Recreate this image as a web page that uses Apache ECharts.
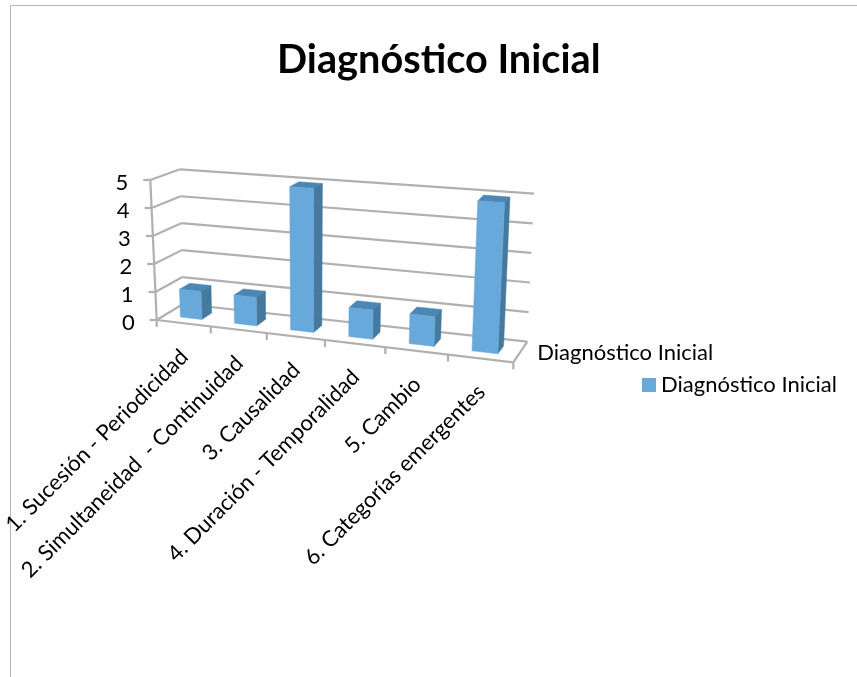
<!DOCTYPE html>
<html>
<head>
<meta charset="utf-8">
<title>Diagnóstico Inicial</title>
<script src="https://cdn.jsdelivr.net/npm/echarts@6/dist/echarts.min.js"></script>
<style>
  html, body { margin: 0; padding: 0; background: #fff; }
  #chart { width: 857px; height: 677px; }
</style>
</head>
<body>
<div id="chart"></div>
<script>
(function(){
  'use strict';
  var categories = ['1. Sucesión - Periodicidad', '2. Simultaneidad  - Continuidad', '3. Causalidad', '4. Duración - Temporalidad', '5. Cambio', '6. Categorías emergentes'];
  var seriesName = 'Diagnóstico Inicial';
  var seriesValues = [1, 1, 5, 1, 1, 5];
  var yTicks = [0, 1, 2, 3, 4, 5];

  var FONT = 'Lato, sans-serif';
  var GRID_COLOR = '#b0b0b0';
  var FRONT = '#68a9db', SIDE = '#45799e', TOP = '#4c86b3';

  // corners of the drawn box: first letter front/back, second left/right, third floor/top
  var box = {
    flf: [156.7, 320], frf: [513.3, 362.3], blf: [183, 304], brf: [527.3, 341.7],
    flt: [150.3, 180], frt: [521, 209], blt: [180, 169.3], brt: [534, 193.7]
  };
  var SKEW = 1.12;      // the far right of the box is nearer, so bands widen
  var BAR_BAND = 0.40;  // share of the category band taken by a bar
  var BAR_D0 = 0.30, BAR_D1 = 0.69;

  function mix(a, b, t){ return [a[0] + (b[0] - a[0]) * t, a[1] + (b[1] - a[1]) * t]; }
  // u along the categories, d front to back, h floor to top, all 0..1
  function project(u, d, h){
    var w = u / (SKEW - (SKEW - 1) * u);
    var front = mix(mix(box.flf, box.frf, w), mix(box.flt, box.frt, w), h);
    var back = mix(mix(box.blf, box.brf, w), mix(box.blt, box.brt, w), h);
    return mix(front, back, d);
  }
  // reads the hidden cartesian axes and gives back normalised scale positions
  function scaleOf(api){
    var band = api.size([1, 0])[0];
    var origin = api.coord([0, 0]);
    var top = api.coord([0, yTicks[yTicks.length - 1]]);
    var x0 = origin[0] - band / 2;
    return {
      u: function(px){ return (px - x0) / (band * categories.length); },
      h: function(py){ return (origin[1] - py) / (origin[1] - top[1]); },
      band: band / (band * categories.length)
    };
  }
  function poly(points, fill){
    return { type: 'polygon', shape: { points: points }, style: { fill: fill, stroke: fill, lineWidth: 0.5 } };
  }
  function line(a, b, width){
    return { type: 'line', shape: { x1: a[0], y1: a[1], x2: b[0], y2: b[1] }, style: { stroke: GRID_COLOR, lineWidth: width || 2.2 } };
  }

  function renderBar(params, api){
    var s = scaleOf(api);
    var p = api.coord([api.value(0), api.value(1)]);
    var uc = s.u(p[0]), h = s.h(p[1]), half = s.band * BAR_BAND / 2;
    var u0 = uc - half, u1 = uc + half;
    return { type: 'group', children: [
      poly([project(u0, BAR_D0, h), project(u1, BAR_D0, h), project(u1, BAR_D1, h), project(u0, BAR_D1, h)], TOP),
      poly([project(u1, BAR_D0, 0), project(u1, BAR_D1, 0), project(u1, BAR_D1, h), project(u1, BAR_D0, h)], SIDE),
      poly([project(u0, BAR_D0, 0), project(u1, BAR_D0, 0), project(u1, BAR_D0, h), project(u0, BAR_D0, h)], FRONT)
    ]};
  }

  function renderYTick(params, api){
    var s = scaleOf(api);
    var h = s.h(api.coord([0, api.value(0)])[1]);
    var a = project(0, 0, h), b = project(0, 1, h), c = project(1, 1, h);
    return { type: 'group', children: [
      line(a, b), line(b, c), line([a[0] - 7, a[1]], a),
      { type: 'text', style: { x: a[0] - 22, y: a[1] + 3, text: String(api.value(0)), align: 'right', verticalAlign: 'middle', font: '22px ' + FONT, fill: '#000' } }
    ]};
  }

  function renderXTick(params, api){
    var s = scaleOf(api);
    var i = api.value(0);
    var uc = s.u(api.coord([i, 0])[0]);
    var u1 = uc + s.band / 2;
    var t = project(u1, 0, 0), c = project(uc, 0, 0);
    var kids = [
      line(t, [t[0], t[1] + 7]),
      { type: 'text', x: c[0] + 1, y: c[1] + 30, rotation: Math.PI / 4, style: { x: 0, y: 0, text: categories[i], align: 'right', verticalAlign: 'middle', font: '22px ' + FONT, fill: '#000' } }
    ];
    if(i === 0){
      var t0 = project(0, 0, 0);
      kids.push(line(t0, [t0[0], t0[1] + 7]));
      kids.push(line(project(0, 0, 0), project(0, 0, 1)));
      kids.push(line(project(0, 0, 0), project(1, 0, 0)));
      kids.push(line(project(1, 0, 0), project(1, 1, 0)));
      var mid = project(1, 0.5, 0);
      kids.push({ type: 'text', style: { x: mid[0] + 17, y: mid[1] + 1, text: seriesName, align: 'left', verticalAlign: 'middle', font: '22px ' + FONT, fill: '#000' } });
    }
    return { type: 'group', children: kids };
  }

  var chart = echarts.init(document.getElementById('chart'), null, { renderer: 'canvas' });
  chart.setOption({
    animation: false,
    backgroundColor: '#fff',
    title: { text: seriesName, left: 272, top: 35, textStyle: { fontFamily: FONT, fontSize: 39.7, fontWeight: 'bold', color: '#000' } },
    legend: {
      data: [seriesName], left: 637, top: 369, itemWidth: 14, itemHeight: 14, itemGap: 0,
      icon: 'rect', textStyle: { fontFamily: FONT, fontSize: 22, color: '#000' }
    },
    grid: { left: 150, right: 340, top: 170, bottom: 320 },
    xAxis: { type: 'category', data: categories, show: false },
    yAxis: { type: 'value', min: 0, max: 5, interval: 1, show: false },
    graphic: [
      { type: 'line', silent: true, shape: { x1: 10.5, y1: 5.5, x2: 857, y2: 5.5 }, style: { stroke: '#b5b5b5', lineWidth: 1 } },
      { type: 'line', silent: true, shape: { x1: 10.5, y1: 5.5, x2: 10.5, y2: 677 }, style: { stroke: '#b5b5b5', lineWidth: 1 } }
    ],
    series: [
      { type: 'custom', name: 'ejeY', silent: true, z: 1, renderItem: renderYTick, encode: { y: 0 }, data: yTicks.map(function(v){ return [v]; }) },
      { type: 'custom', name: 'ejeX', silent: true, z: 2, renderItem: renderXTick, encode: { x: 0 }, data: categories.map(function(c, i){ return [i]; }) },
      { type: 'custom', name: seriesName, z: 3, renderItem: renderBar, itemStyle: { color: FRONT }, encode: { x: 0, y: 1 },
        data: seriesValues.map(function(v, i){ return [i, v]; }) }
    ]
  });
})();
</script>
</body>
</html>
